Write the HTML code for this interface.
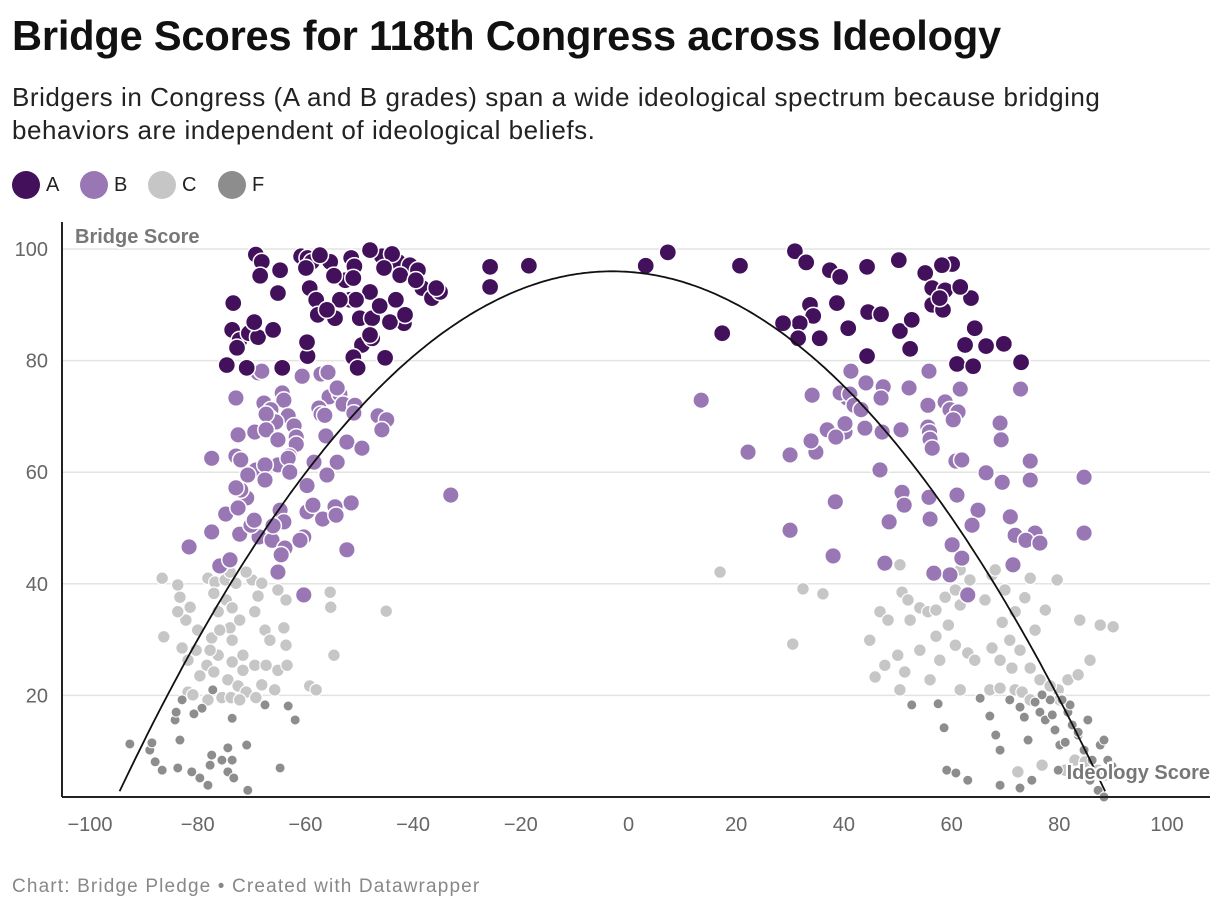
<!DOCTYPE html>
<html><head><meta charset="utf-8">
<style>
body{margin:0;background:#fff;font-family:"Liberation Sans",sans-serif;}
#wrap{position:relative;width:1220px;height:914px;overflow:hidden;}
h1{position:absolute;left:12px;top:12px;margin:0;font-size:41.6px;font-weight:bold;color:#111;letter-spacing:-0.2px;}
.sub{position:absolute;left:12px;top:81px;width:1200px;font-size:26px;line-height:33px;color:#222;letter-spacing:0.55px;white-space:nowrap;}
.leg{position:absolute;top:171px;font-size:20px;color:#222;display:flex;align-items:center;}
.leg span.dot{display:inline-block;width:28px;height:28px;border-radius:50%;margin-right:6px;}
.foot{position:absolute;left:12px;top:876px;font-size:19px;color:#888;letter-spacing:1.15px;}
svg{position:absolute;left:0;top:0;}
</style></head><body>
<div id="wrap">
<h1>Bridge Scores for 118th Congress across Ideology</h1>
<div class="sub">Bridgers in Congress (A and B grades) span a wide ideological spectrum because bridging<br>behaviors are independent of ideological beliefs.</div>
<div class="leg" style="left:12px"><span class="dot" style="background:#43105c"></span>A</div>
<div class="leg" style="left:80px"><span class="dot" style="background:#9877b4"></span>B</div>
<div class="leg" style="left:148px"><span class="dot" style="background:#c6c6c6"></span>C</div>
<div class="leg" style="left:218px"><span class="dot" style="background:#8d8d8d"></span>F</div>
<svg id="plot" width="1220" height="914"></svg>
<div class="foot">Chart: Bridge Pledge • Created with Datawrapper</div>
</div>
<script>
const xTicks=[-100,-80,-60,-40,-20,0,20,40,60,80,100];
const yTicks=[20,40,60,80,100];
const curveCoef=[96,-3,0.01113];
const gradeA=[[-69.2,99],[-68.1,97.7],[-68.4,95.2],[-64.7,96.2],[-60.8,98.7],[-59.6,98.4],[-58.8,97.7],[-59.9,96.6],[-59.2,93],[-55.4,97.7],[-51.5,98.4],[-50.9,96.9],[-52.6,94.4],[-51.7,90.9],[-49.9,87.6],[-54.7,95.2],[-58,90.9],[-57.7,88.2],[-51.1,94.8],[-48,92.3],[-47.6,87.6],[-46.2,89.8],[-42.8,97.7],[-40.6,97.1],[-39.1,96.2],[-42.4,95.3],[-45.8,98.7],[-43.9,99.1],[-38.3,93],[-36.5,91.2],[-41.7,86.7],[-49.5,82.8],[-47.6,84],[-44.3,86.9],[-41.5,88.2],[-73.4,90.3],[-73.6,85.5],[-72.2,83.7],[-72.7,82.3],[-70.5,84.9],[-68.8,84.2],[-74.6,79.2],[-70.9,78.7],[-64.3,78.7],[-59.6,80.8],[-59.7,83.3],[-51.1,80.6],[-50.3,78.7],[-48,84.6],[-45.2,80.5],[-48,99.8],[-57.3,98.9],[-35,92.3],[-35.7,93],[-39.5,94.4],[-65.1,92.1],[-66,85.5],[-69.5,86.9],[-43.2,90.9],[-45.4,96.6],[-50.6,90.9],[-53.6,90.9],[-54.5,87.6],[-56,89.1],
[-25.7,96.8],[-25.7,93.2],[-18.5,97],[3.2,97],[7.3,99.4],[17.4,84.9],[20.7,97],
[30.9,99.6],[33,97.6],[37.4,96.2],[39.3,95],[44.3,96.8],[50.2,98],[55.1,95.7],[60.1,97.3],[58.2,97.1],[56.4,93],[58.8,92.6],[63.6,91.2],[61.6,93.2],[33.7,90],[34.3,88],[38.7,90.3],[44.5,88.7],[46.9,88.3],[31.8,86.7],[35.5,84],[40.8,85.8],[50.4,85.3],[52.6,87.3],[52.3,82.1],[44.3,80.8],[64.3,85.8],[62.5,82.8],[66.4,82.6],[69.7,83],[61,79.4],[64,79],[72.9,79.7],[28.7,86.7],[31.5,84],[56.4,90],[58.4,89.1],[57.8,91.2]];
const gradeB=[[-68.8,77.8],[-68.1,78.1],[-60.6,77.2],[-57.1,77.6],[-55.8,77.9],[-72.9,73.3],[-67.7,72.4],[-64.3,74.2],[-64,72.9],[-55.6,73.5],[-53.6,74],[-54.1,75.1],[-53,72.2],[-50.8,72],[-57.5,71.5],[-57.1,70.4],[-51,70.6],[-66.4,71.2],[-66.6,69.7],[-63.2,70.1],[-62.1,68.3],[-65.5,69],[-67.3,70.4],[-72.5,66.7],[-69.4,67.2],[-67.3,67.6],[-65.1,65.8],[-61.7,66.3],[-56.4,70.2],[-56.2,66.5],[-46.5,70.1],[-44.9,69.4],[-45.8,67.6],[-61.7,65],[-72.9,62.9],[-63,62.9],[-65.1,61.3],[-63.2,62.5],[-52.3,65.4],[-54.1,61.8],[-49.5,64.3],[-56,59.5],[-58.4,61.8],[-69.2,60.4],[-67.5,61.3],[-70.7,59.5],[-72,62.2],[-77.4,62.5],[-70.9,55.4],[-72,56.8],[-72.9,57.2],[-59.7,57.6],[-62.9,60],[-67.5,58.6],[-74.8,52.5],[-72.5,53.6],[-64.7,53.2],[-64,51.1],[-59.7,52.9],[-58.6,54.1],[-54.5,53.8],[-56.8,51.6],[-54.3,52.3],[-51.5,54.5],[-72.2,48.9],[-77.4,49.3],[-68.6,48.4],[-70.1,50.5],[-66.2,47.8],[-63.8,46.4],[-64.5,45.2],[-65.1,42.1],[-69.5,51.4],[-81.6,46.6],[-60.3,38],[-52.3,46.1],[-60.3,48.4],[-66,50.4],[-33,55.9],[-75.9,43.2],[-74,44.3],[-61,47.8],
[13.5,72.9],[22.2,63.6],[30,63.1],[34.8,63.6],[41.3,78.1],[44.1,76],[47.3,75.3],[52.1,75.1],[55.8,78.1],[40.6,73.3],[39.3,74.2],[41.1,74],[41.9,72],[43.2,71.2],[46.9,73.3],[55.6,72],[58.8,72.6],[59.7,71.2],[61.2,70.8],[60.3,69.4],[55.6,68.1],[55.9,67.2],[47.1,67.2],[43.9,67.9],[34.1,73.8],[40.2,67.2],[36.9,67.6],[33.9,65.6],[40.2,68.7],[50.6,67.6],[61.6,74.9],[72.8,74.9],[69,68.8],[69.2,65.8],[56,65.9],[56.4,64.3],[60.8,62],[61.9,62.2],[74.6,62],[74.6,58.6],[66.4,59.9],[84.6,59.1],[75.5,49.1],[71.8,48.7],[69.4,58.2],[46.7,60.4],[50.8,56.4],[55.8,55.5],[61,55.9],[51.2,54.1],[56,51.6],[38.4,54.7],[30,49.6],[70.9,52],[73.8,47.8],[76.4,47.3],[84.6,49.1],[64.9,53.2],[63.8,50.5],[60.1,47],[61.9,44.6],[63,38],[59.7,41.6],[38,45],[47.6,43.7],[71.4,43.4],[38.5,66.3],[56.7,41.9],[48.4,51.1]];
const gradeC=[[-86.6,41],[-83.7,39.8],[-83.3,37.6],[-81.4,35.8],[-82.2,33.5],[-78.1,41],[-76.8,40.3],[-77,38.3],[-74.9,40.7],[-72.9,40.1],[-74.7,37.1],[-76.2,35],[-73.6,35.7],[-80,31.7],[-77.4,30.3],[-74,32.1],[-72.2,33.5],[-69.9,40.7],[-68.1,40.1],[-68.8,37.8],[-69.4,35],[-65.1,38.9],[-63.6,37.1],[-64,32.1],[-67.5,31.7],[-66.6,29.9],[-63.6,29],[-80.3,28.1],[-82.9,28.5],[-81.8,26.3],[-78.3,25.4],[-76.2,27.2],[-73.6,26],[-71.6,24.5],[-69.4,25.4],[-67.3,25.4],[-65.1,24.5],[-63.4,25.4],[-79.6,23.5],[-77,24.2],[-74.4,22.8],[-72.5,21.7],[-71,20.6],[-68.1,21.9],[-65.7,21],[-59.2,21.7],[-58,21],[-81.8,20.6],[-80.9,20.1],[-78.1,19.2],[-75.5,19.6],[-73.8,19.6],[-72.2,19.2],[-69.2,19.6],[-73.6,29.9],[-71.6,27.2],[-86.3,30.5],[-55.4,38.5],[-55.3,35.8],[-54.7,27.2],[-45,35.1],[-83.7,35],[-77.7,28.1],[-75.9,31.7],[-74,42.1],[-71,42.1],
[17,42.1],[32.4,39.1],[36.1,38.2],[30.5,29.2],[50.4,43.4],[50.8,38.5],[51.9,37.1],[46.7,35],[48.2,33.5],[44.8,29.9],[52.3,33.5],[54.1,35.7],[55.6,35],[57.1,35.3],[58.8,37.6],[60.7,38.9],[61.6,36.2],[59.4,32.6],[57.1,30.6],[54.1,28.1],[50,27.2],[47.6,25.4],[45.8,23.3],[51.3,24.2],[56,22.8],[57.8,26.3],[60.7,29],[63,27.6],[64.3,26.3],[67.5,28.5],[69,26.3],[70.8,29.9],[69.4,33.1],[71.8,35],[73.6,37.5],[74.6,41],[79.6,40.7],[77.4,35.3],[75.5,31.7],[72.7,28.1],[71.2,24.9],[74.6,24.9],[76.4,22.8],[79.8,21],[81.6,22.8],[83.5,23.7],[85.7,26.3],[87.6,32.6],[83.8,33.5],[90,32.3],[67.1,21],[69,21.3],[71.8,21],[73.1,20.6],[74.6,19.2],[61.6,21],[66.2,37.1],[63.4,40.7],[61.6,42.5],[67.5,41.6],[69.9,38.9],[82.9,8.4],[84.8,8.1],[87.2,6.6],[88.5,5.7],[76.8,7.5],[81.1,6.6],[72.3,6.3],[50.4,21],[68.1,42.5],[80.1,19.2],[78.3,21.7]];
const gradeF=[[-92.6,11.3],[-88.9,10.2],[-88.5,11.5],[-84.2,15.6],[-83.7,7],[-86.6,6.6],[-81.1,6.3],[-79.6,5.2],[-77.7,7.5],[-77.4,9.3],[-75.5,8.4],[-74.4,10.6],[-73.6,8.4],[-70.9,11.1],[-74.4,6.3],[-73.3,5.2],[-78.1,3.9],[-79.2,17.7],[-80.7,16.7],[-73.6,15.9],[-77.2,21],[-67.5,18.3],[-63.2,18.1],[-61.9,15.6],[-82.9,19.2],[-84,17],[-64.7,7],[-70.7,3],[-87.9,8.1],[-83.3,12],
[52.6,18.3],[57.5,18.5],[58.6,14.2],[59.1,6.6],[60.8,6.1],[63,4.8],[65.3,19.5],[67.1,16.3],[68.2,12.9],[69,10.2],[70.8,19.2],[72.7,17.9],[73.5,16.1],[74.2,12],[75.5,18.8],[76.4,17],[77.4,15.6],[78.3,19.2],[79.2,13.8],[80.1,11.1],[81.6,17],[82.4,14.7],[83.5,12.9],[84.6,10.2],[85.3,15.6],[86.1,8.4],[87.6,11.1],[88.3,12],[89,8.4],[89.8,7.3],[72.7,3.4],[74.9,4.8],[79.8,6.6],[81.1,11.6],[69,3.9],[85.7,4.8],[87.2,3],[88.3,1.8],[83.5,13.4],[82,18.3],[78.7,16.5],[76.8,20.1],[80.5,19.2]];

const NS='http://www.w3.org/2000/svg';
const svg=document.getElementById('plot');
const X=v=>628.5+v*5.385;
const Y=v=>807-v*5.58;
function mk(tag,attrs){const e=document.createElementNS(NS,tag);for(const k in attrs)e.setAttribute(k,attrs[k]);svg.appendChild(e);return e;}
yTicks.forEach(t=>{
  const g=mk('line',{x1:62,x2:1210,y1:Y(t),y2:Y(t),stroke:'#e3e3e3','stroke-width':1.5});
  
  
  const tx=mk('text',{x:48,y:Y(t)+7,'text-anchor':'end','font-size':20,fill:'#666','font-family':'Liberation Sans, sans-serif'});
  tx.textContent=t;
  
  
});
xTicks.forEach(t=>{
  const tx=mk('text',{x:X(t),y:831,'text-anchor':'middle','font-size':20,fill:'#666','font-family':'Liberation Sans, sans-serif'});
  tx.textContent=t<0?'\u2212'+(-t):String(t);
  
  
});
const yl=mk('line',{x1:62,x2:62,y1:222,y2:797,stroke:'#222','stroke-width':2});


function dots(arr,r,fill,sw,name){
  arr.forEach(p=>{
    const c=mk('circle',{cx:X(p[0]),cy:Y(p[1]),r:r,fill:fill,stroke:'#fff','stroke-width':sw});
    
    
  });
}
dots(gradeC,6.3,'#c6c6c6',1.2,'point-grade-c');
dots(gradeF,5,'#8d8d8d',1,'point-grade-f');
dots(gradeB,8.3,'#9877b4',1.5,'point-grade-b');
dots(gradeA,8.6,'#43105c',1.5,'point-grade-a');
let d='';
for(let v=-100;v<=100;v+=0.5){
  const yv=curveCoef[0]-curveCoef[2]*Math.pow(v-curveCoef[1],2);
  if(yv<1.8)continue;
  d+=(d?'L':'M')+X(v).toFixed(1)+','+Y(yv).toFixed(1);
}
const cp=mk('path',{d:d,fill:'none',stroke:'#111','stroke-width':1.8});


const xl=mk('line',{x1:62,x2:1210,y1:797,y2:797,stroke:'#222','stroke-width':2});


const yt=mk('text',{x:75,y:243,'font-size':20,'font-weight':'bold',fill:'#777','font-family':'Liberation Sans, sans-serif',stroke:'#fff','stroke-width':4,'paint-order':'stroke'});
yt.textContent='Bridge Score';


const xt=mk('text',{x:1210,y:779,'text-anchor':'end','font-size':20,'font-weight':'bold',fill:'#777','font-family':'Liberation Sans, sans-serif',stroke:'#fff','stroke-width':4,'paint-order':'stroke'});
xt.textContent='Ideology Score';


</script>
</body></html>
